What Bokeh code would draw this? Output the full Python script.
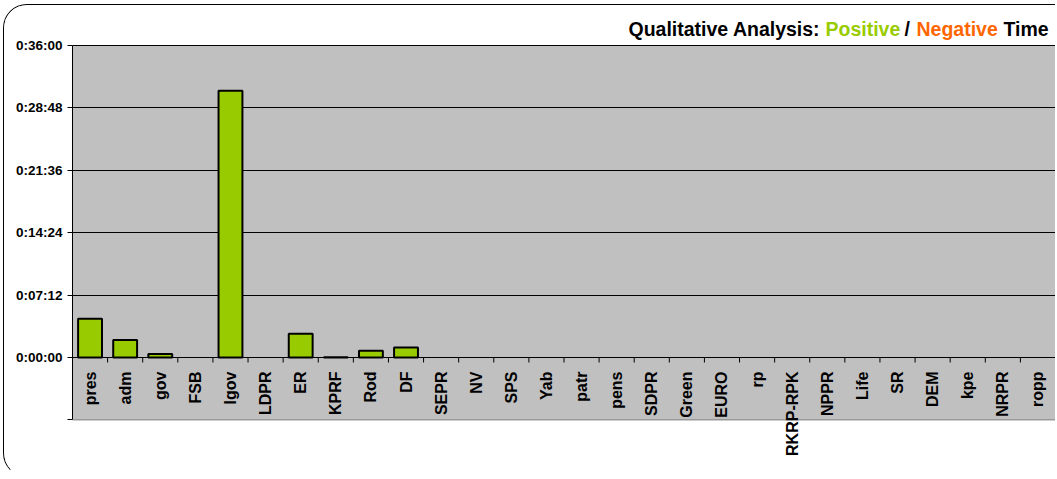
import numpy as np
from bokeh.plotting import figure
from bokeh.models import Range1d, FixedTicker, ColumnDataSource
from bokeh.core.properties import value
from bokeh.embed import file_html
from bokeh.resources import INLINE

# ---- data ----
categories = ["pres", "adm", "gov", "FSB", "lgov", "LDPR", "ER", "KPRF", "Rod", "DF",
              "SEPR", "NV", "SPS", "Yab", "patr", "pens", "SDPR", "Green", "EURO", "rp",
              "RKRP-RPK", "NPPR", "Life", "SR", "DEM", "kpe", "NRPR", "ropp"]
positive_seconds = [268, 122, 25, 0, 1847, 0, 164, 2, 46, 69,
                    0, 0, 0, 0, 0, 0, 0, 0, 0, 0,
                    0, 0, 0, 0, 0, 0, 0, 0]
y_tick_seconds = [-432, 0, 432, 864, 1296, 1728, 2160]
y_tick_labels = ["", "0:00:00", "0:07:12", "0:14:24", "0:21:36", "0:28:48", "0:36:00"]
title_parts = ["Qualitative Analysis:", "Positive", "/", "Negative", "Time"]
title_colors = ["#000000", "#99CC00", "#000000", "#FF6600", "#000000"]

GREEN = "#99CC00"
FONT = "Liberation Sans"

# ---- layout (pixels on the canvas) ----
W, H = 1052, 473
FRAME_LEFT = 68
PLOT_TOP_PX, ZERO_PX, PLOT_BOTTOM_PX = 40, 352, 416   # canvas y of 0:36:00, 0:00:00, bottom

n = len(categories)
x_idx = list(range(n))
bounds = [i + 0.5 for i in range(n - 1)]

y_min_tick, y_max_tick = y_tick_seconds[0], y_tick_seconds[-1]
px_per_s = (ZERO_PX - PLOT_TOP_PX) / y_max_tick
y_top = y_max_tick + PLOT_TOP_PX / px_per_s
y_bottom = -(H - ZERO_PX) / px_per_s

src = ColumnDataSource(dict(
    x=x_idx, top=positive_seconds, cat=categories,
    zero=[0] * n,
    lalpha=[1.0 if v > 0 else 0.0 for v in positive_seconds],
))

p = figure(width=W, height=H,
           x_range=Range1d(-0.5, n - 0.5),
           y_range=Range1d(y_bottom, y_top),
           x_axis_location=None,
           output_backend="svg", toolbar_location=None,
           min_border_left=FRAME_LEFT, min_border_right=1,
           min_border_top=0, min_border_bottom=0,
           background_fill_color="white",
           border_fill_color="white",
           outline_line_color=None)
p.styles = {"border-left": "1.5px solid black",
            "border-top": "1.5px solid black",
            "border-bottom": "1px solid transparent",
            "border-right": "0px solid transparent",
            "border-radius": "24px 0px 0px 24px",
            "overflow": "hidden", "margin-left": "3px", "margin-top": "4px"}

# plot area (grey box between the axis limits)
p.quad(left=[-0.5], right=[n - 0.5], bottom=[y_min_tick], top=[y_max_tick],
       fill_color="#C0C0C0", line_color="#808080", line_width=1, level="image")

# grid
p.xgrid.visible = False
p.ygrid.ticker = FixedTicker(ticks=y_tick_seconds[1:])
p.ygrid.grid_line_color = "#000000"
p.ygrid.grid_line_width = 1

# y axis
ax = p.yaxis[0]
ax.bounds = (y_min_tick, y_max_tick)
ax.ticker = FixedTicker(ticks=y_tick_seconds)
ax.major_label_overrides = {t: lab for t, lab in zip(y_tick_seconds, y_tick_labels)}
ax.major_label_text_font = FONT
ax.major_label_text_font_style = "bold"
ax.major_label_text_font_size = "13.5px"
ax.major_label_text_color = "black"
ax.axis_line_color = "black"
ax.major_tick_line_color = "black"
ax.major_tick_in = 0
ax.major_tick_out = 5
ax.minor_tick_line_color = None
ax.major_label_standoff = 5

# bars
p.vbar(x="x", top="top", bottom=0, width=0.68, source=src,
       fill_color=GREEN, line_color="black", line_width=2, line_alpha="lalpha")

# category tick marks at boundaries on the zero line
p.ray(x=bounds, y=[0] * len(bounds), length=5, length_units="screen",
      angle=-np.pi / 2, line_color="black", line_width=1)

# category labels below zero line
p.text(x="x", y="zero", text="cat", source=src, angle=np.pi / 2,
       text_align="right", text_baseline="middle", y_offset=14,
       text_font=value(FONT), text_font_style="bold", text_font_size="16px",
       text_color="black")

# title (multi-colour), anchored at the right edge of the plot area
title_src = ColumnDataSource(dict(
    x=[n - 0.5] * len(title_parts), y=[y_max_tick] * len(title_parts),
    text=title_parts, color=title_colors,
    xoff=[-427, -230, -151, -139, -52],
))
p.text(x="x", y="y", text="text", source=title_src, x_offset="xoff", y_offset=-17,
       text_color="color", text_align="left", text_baseline="alphabetic",
       text_font=value(FONT), text_font_style="bold", text_font_size="19.5px")

open("out.html", "w").write(file_html(p, INLINE))
